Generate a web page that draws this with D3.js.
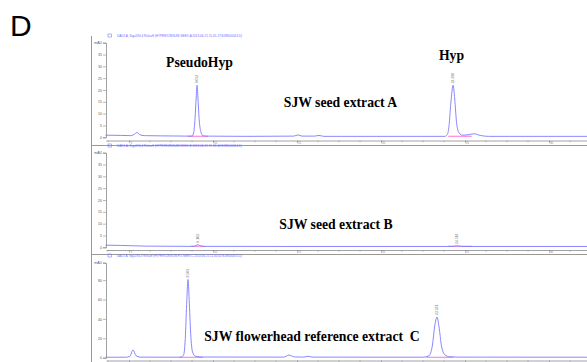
<!DOCTYPE html>
<html>
<head>
<meta charset="utf-8">
<script src="https://cdn.jsdelivr.net/npm/d3@7"></script>
<style>
  body { margin: 0; background: #fff; }
  svg { display: block; }
</style>
</head>
<body>
<div id="main"></div>
<script>
// chromatogram samples: [retention time, mAU]
var traceA = [
  [3.6, 0.9], [4.5, 0.8], [5.1, 0.7], [5.3, 1.2], [5.48, 2.0], [5.65, 1.1], [5.9, 0.7], [7, 0.6],
  [8.5, 0.5], [8.75, 0.5], [8.85, 2], [8.93, 8], [9.0, 17], [9.05, 22], [9.1, 17], [9.17, 8],
  [9.27, 2.5], [9.4, 0.7], [9.6, 0.5], [12, 0.4], [14.8, 0.5], [15.06, 1.0], [15.3, 0.5],
  [16.05, 0.5], [16.31, 0.8], [16.6, 0.4], [20, 0.4], [23.8, 0.4], [23.95, 1.2], [24.05, 5],
  [24.15, 14], [24.29, 22], [24.4, 15], [24.5, 6], [24.65, 1.8], [24.85, 0.9], [25.2, 1.1],
  [25.54, 1.5], [25.9, 0.8], [26.4, 0.4], [32.3, 0.4]
];
var traceB = [
  [3.6, 0.9], [4.5, 0.8], [6, 0.5], [8.5, 0.4], [8.85, 0.4], [9.0, 0.8], [9.1, 1.1],
  [9.2, 0.8], [9.4, 0.4], [15, 0.35], [24.2, 0.35], [24.52, 0.6], [24.8, 0.35], [32.3, 0.35]
];
var traceC = [
  [3.6, 0.5], [4.8, 0.5], [5.05, 1.5], [5.24, 8], [5.42, 2], [5.65, 0.6], [7.5, 0.5],
  [8.1, 0.6], [8.25, 3], [8.35, 20], [8.43, 55], [8.51, 80.7], [8.58, 60], [8.67, 25],
  [8.78, 6], [8.95, 1.5], [9.3, 0.7], [14.2, 0.6], [14.52, 2.7], [14.85, 0.8], [15.4, 0.6],
  [15.65, 1.5], [15.9, 0.6], [22.5, 0.5], [22.85, 2], [23.05, 12], [23.2, 33], [23.33, 42],
  [23.45, 32], [23.6, 12], [23.8, 3], [24.1, 0.9], [24.6, 0.6], [32.3, 0.5]
];

var panelNames = ["SJW seed extract A", "SJW seed extract B", "SJW flowerhead reference extract\u00a0 C"];
var peakNames = ["PseudoHyp", "Hyp"];
var headerTexts = [
  "DAD1 A, Sig=590,4 Ref=off (HYPERICIN\\SJW-SEED-A 2013-06-21 11-05-17\\SJW000013.D)",
  "DAD1 A, Sig=590,4 Ref=off (HYPERICIN\\SJW-SEED-B 2013-06-21 11-52-40\\SJW000014.D)",
  "DAD1 A, Sig=590,4 Ref=off (HYPERICIN\\SJW-FLOWER-C 2013-06-21 12-40-02\\SJW000015.D)"
];
// retention labels printed over integrated peaks
var peaksA = [{ t: 9.05, v: 22, lbl: "9.052" }, { t: 24.29, v: 22, lbl: "24.290" }];
var peaksB = [{ t: 9.1, v: 1.1, lbl: "9.103" }, { t: 24.52, v: 0.6, lbl: "24.518" }];
var peaksC = [{ t: 8.51, v: 80.7, lbl: "8.509" }, { t: 23.33, v: 42, lbl: "23.331" }];
// integration baselines (start, end)
var integA = [[8.5, 9.7], [24.0, 25.4]];
var integB = [[8.7, 9.5], [24.0, 25.4]];
var integC = [[8.0, 9.4], [22.7, 24.3]];

var yTicksAB = [0, 5, 10, 15, 20, 25, 30, 35, 40];
var yTicksC = [0, 20, 40, 60, 80, 98];
var xMajor = [5, 10, 15, 20, 25, 30];
var xMinor = d3.range(3.75, 32.3, 1.25).filter(d => xMajor.indexOf(d) < 0);

var W = 587, H = 362;
var svg = d3.select("#main").append("svg").attr("width", W).attr("height", H);

var x = d3.scaleLinear().domain([3.63, 32.26]).range([106, 587]);

var traceColor = "#7a7aff", pink = "#ff70d8", axisColor = "#8a8a8a";

var panels = [
  { data: traceA, peaks: peaksA, integ: integA, header: 37, top: 42.7, base: 137.3, max: 40, ticks: yTicksAB, xAxis: 140.5, frame: 145.5, xLabels: true },
  { data: traceB, peaks: peaksB, integ: integB, header: 147, top: 152.7, base: 247.3, max: 40, ticks: yTicksAB, xAxis: 250, frame: 254.5, xLabels: true },
  { data: traceC, peaks: peaksC, integ: integC, header: 257, top: 262.7, base: 357.7, max: 98, ticks: yTicksC, xAxis: 360.5, frame: null, xLabels: false }
];

svg.append("text").attr("x", 10).attr("y", 36)
  .attr("font-family", "Arial, 'Liberation Sans', sans-serif").attr("font-size", 30)
  .text("D");

// left frame line
svg.append("line").attr("x1", 91.5).attr("x2", 91.5).attr("y1", 36).attr("y2", H)
  .attr("stroke", "#999").attr("stroke-width", 1);

panels.forEach(function(p, i) {
  var y = d3.scaleLinear().domain([0, p.max]).range([p.base, p.top]);
  var g = svg.append("g");

  // header: small legend box + signal description
  g.append("rect").attr("x", 108).attr("y", p.header - 3).attr("width", 3.5).attr("height", 3)
    .attr("fill", "none").attr("stroke", traceColor).attr("stroke-width", 0.6);
  g.append("text").attr("x", 117).attr("y", p.header)
    .attr("font-family", "Arial, sans-serif").attr("font-size", 3.6)
    .attr("fill", "#6a6aff").attr("textLength", 125).attr("lengthAdjust", "spacingAndGlyphs")
    .text(headerTexts[i]);

  // y axis
  var yAxis = d3.axisLeft(y).tickValues(p.ticks).tickSize(3)
    .tickFormat(d => d === p.ticks[p.ticks.length - 1] ? "mAU" : d);
  var ya = g.append("g").attr("transform", "translate(106,0)").call(yAxis);
  ya.select(".domain").attr("stroke", axisColor).attr("stroke-width", 0.8);
  ya.selectAll(".tick line").attr("stroke", axisColor).attr("stroke-width", 0.6);
  ya.selectAll(".tick text").attr("font-size", 3.5).attr("fill", "#555").attr("x", -4)
    .attr("font-family", "Arial, sans-serif");

  // x axis
  var xa = g.append("g").attr("transform", "translate(0," + p.xAxis + ")")
    .call(d3.axisBottom(x).tickValues(xMajor).tickSize(2.5).tickSizeOuter(0)
      .tickFormat(p.xLabels ? d3.format("d") : ""));
  xa.select(".domain").attr("stroke", axisColor).attr("stroke-width", 0.8);
  xa.selectAll(".tick line").attr("stroke", axisColor).attr("stroke-width", 0.7);
  xa.selectAll(".tick text").attr("font-size", 2.6).attr("fill", "#777").attr("y", 1.2)
    .attr("dx", 2).attr("font-family", "Arial, sans-serif");
  g.append("g").selectAll("line").data(xMinor).enter().append("line")
    .attr("x1", d => x(d)).attr("x2", d => x(d))
    .attr("y1", p.xAxis).attr("y2", p.xAxis + 1.8)
    .attr("stroke", axisColor).attr("stroke-width", 0.5);

  // integration baselines
  g.selectAll(".integ").data(p.integ).enter().append("line")
    .attr("x1", d => x(d[0])).attr("x2", d => x(d[1]))
    .attr("y1", y(0.45)).attr("y2", y(0.45))
    .attr("stroke", pink).attr("stroke-width", 1);

  // trace
  var line = d3.line().x(d => x(d[0])).y(d => y(d[1])).curve(d3.curveMonotoneX);
  g.append("path").datum(p.data).attr("d", line)
    .attr("fill", "none").attr("stroke", traceColor).attr("stroke-width", 0.9);

  // retention time labels
  g.selectAll(".rt").data(p.peaks).enter().append("text")
    .attr("transform", d => "translate(" + (x(d.t) + 1) + "," + (y(d.v) - 2) + ") rotate(-90)")
    .attr("font-family", "Arial, sans-serif").attr("font-size", 3.4).attr("fill", "#777")
    .text(d => d.lbl);

  // frame separator
  if (p.frame) {
    g.append("line").attr("x1", 91).attr("x2", W).attr("y1", p.frame).attr("y2", p.frame)
      .attr("stroke", "#999").attr("stroke-width", 1.2);
  }
});

// annotations
var serif = "'Liberation Serif', 'Times New Roman', serif";
function label(txt, cx, cy) {
  svg.append("text").attr("x", cx).attr("y", cy).attr("text-anchor", "middle")
    .attr("font-family", serif).attr("font-weight", "bold").attr("font-size", 13.7)
    .text(txt);
}
label(peakNames[0], 199.5, 67);
label(peakNames[1], 451.5, 60);
label(panelNames[0], 340.5, 107);
label(panelNames[1], 336, 229);
label(panelNames[2], 312, 341);
</script>
</body>
</html>
